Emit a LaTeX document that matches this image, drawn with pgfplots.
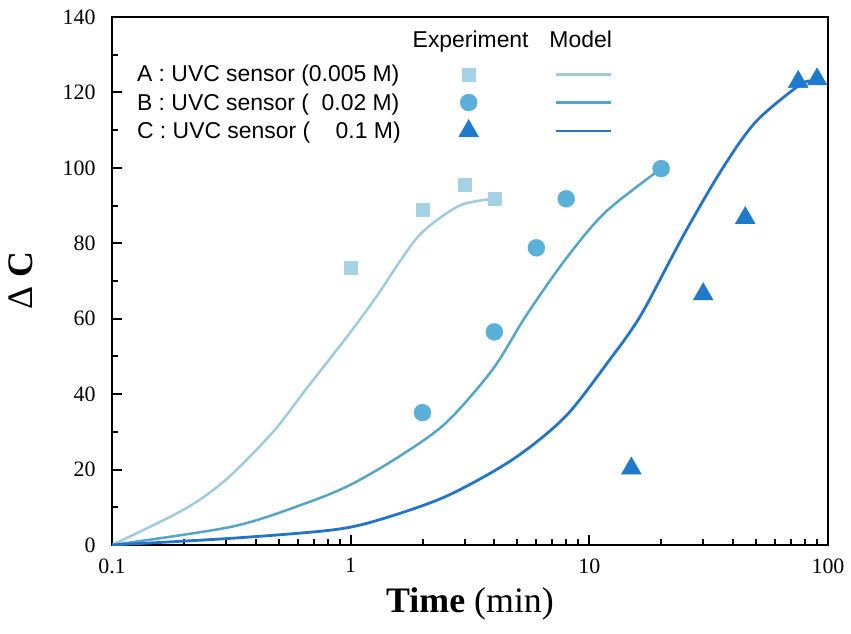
\documentclass[border=0pt]{standalone}
\usepackage{pgfplots}
\pgfplotsset{compat=1.18}
\usetikzlibrary{calc}
\usepackage{fontspec}
\setmainfont{Liberation Serif}
\newfontfamily\arial{Liberation Sans}

\definecolor{colA}{RGB}{166,210,230}
\definecolor{colAl}{RGB}{160,203,222}
\definecolor{colB}{RGB}{90,176,217}
\definecolor{colBl}{RGB}{84,165,200}
\definecolor{colC}{RGB}{32,122,204}
\definecolor{colCl}{RGB}{36,116,200}

\newcommand{\numbox}[1]{\makebox[2.502em][r]{#1}}

\begin{document}
\begin{tikzpicture}
\begin{axis}[
    scale only axis,
    width=716bp, height=528bp,
    xmode=log,
    xmin=0.1, xmax=100,
    ymin=0, ymax=140,
    xtick={0.1,1,10,100},
    xticklabels={0.1,1,10,100},
    minor xtick={0.2,0.3,0.4,0.5,0.6,0.7,0.8,0.9,2,3,4,5,6,7,8,9,20,30,40,50,60,70,80,90},
    ytick={0,20,...,140},
    minor ytick={10,30,...,130},
    tick align=inside,
    xtick pos=bottom, ytick pos=left,
    major tick length=10bp, minor tick length=6bp,
    every tick/.style={black, line width=2bp},
    axis line style={line width=2.8bp},
    /pgf/number format/assume math mode=true,
    tick label style={font=\fontsize{22}{22}\selectfont},
    xticklabel style={yshift=-10bp},
    yticklabel style={xshift=-13bp},
    xlabel={\textbf{Time} (min)},
    xlabel style={font=\fontsize{36}{36}\selectfont},
    xlabel shift=7bp,
    ylabel={Δ \textbf{C}},
    ylabel style={font=\fontsize{36}{36}\selectfont},
    ylabel shift=23bp,
    legend plot pos=right,
    legend cell align=left,
    legend style={at={(0.032,0.977)}, anchor=north west, draw=none, fill=none,
        inner sep=0pt, row sep=6bp,
        font=\arial\fontsize{23}{23}\selectfont},
]
\coordinate (sw) at (rel axis cs:0,0);

% header of the legend
\addlegendimage{legend image code/.code={
    \path[draw=none, fill=none] (0bp,-12bp) rectangle (215bp,12bp);
    \node[anchor=center, font=\arial\fontsize{23}{23}\selectfont] at (68bp,5bp) {Experiment};
    \node[anchor=center, font=\arial\fontsize{23}{23}\selectfont] at (178bp,5bp) {Model};}}
\addlegendentry{}

% model curves
\addplot[colAl, line width=2.5bp, smooth, forget plot] coordinates {
    (0.1,0) (0.2,9.4) (0.3,17.3) (0.47,29.8) (0.65,41.3) (1.0,56.5)
    (1.32,67) (1.6,75) (2,83) (2.86,90) (4,91.8)
};
\addplot[colBl, line width=2.5bp, smooth, forget plot] coordinates {
    (0.1,0) (0.32,4.9) (0.65,11.1) (1.0,16) (1.6,23.5) (2.51,32.4)
    (3.94,46.6) (5.43,60.8) (7.98,75.9) (11.7,88.3) (20,99.8)
};
\addplot[colCl, line width=2.8bp, smooth, forget plot] coordinates {
    (0.1,0) (0.32,1.8) (0.84,4.0) (1.32,6.7) (2.51,12.9) (4.78,22.7)
    (7.98,34.2) (12.5,50.1) (15,57) (17.3,63.4) (25,82.5) (36.1,99.8)
    (49.8,112.2) (75.7,121.9) (85,123)
};

% experiment
\addplot[only marks, mark=square*, mark size=6.5bp, colA,
    legend image code/.code={
        \path[draw=none, fill=none] (0bp,-11bp) rectangle (215bp,11bp);
        \draw[colA, mark=square*, mark size=6.5bp] plot coordinates {(66bp,0bp)};
        \draw[colAl, line width=2.5bp] (153bp,0bp) -- (208bp,0bp);}]
    coordinates {(1,73.6) (2,88.9) (3,95.6) (4,91.8)};
\addlegendentry{A : UVC sensor (\numbox{0.005} M)}

\addplot[only marks, mark=*, mark size=8.5bp, colB,
    legend image code/.code={
        \path[draw=none, fill=none] (0bp,-11bp) rectangle (215bp,11bp);
        \draw[colB, mark=*, mark size=8.5bp] plot coordinates {(66bp,0bp)};
        \draw[colBl, line width=2.5bp] (153bp,0bp) -- (208bp,0bp);}]
    coordinates {(2,35.1) (4,56.5) (6,78.8) (8,91.8) (20,99.8)};
\addlegendentry{B : UVC sensor (\numbox{0.02} M)}

\addplot[only marks, mark=triangle*, mark size=11.5bp, colC,
    legend image code/.code={
        \path[draw=none, fill=none] (0bp,-11bp) rectangle (215bp,11bp);
        \draw[colC, mark=triangle*, mark size=11.5bp] plot coordinates {(66bp,0bp)};
        \draw[colCl, line width=2.8bp] (153bp,0bp) -- (208bp,0bp);}]
    coordinates {(15,20.3) (30,66.5) (45,86.7) (75,122.8) (90,123.5)};
\addlegendentry{C : UVC sensor (\numbox{0.1} M)}
\end{axis}
\path ($(sw)+(-112bp,-89bp)$) rectangle ++(851bp,634bp);
\end{tikzpicture}
\end{document}
